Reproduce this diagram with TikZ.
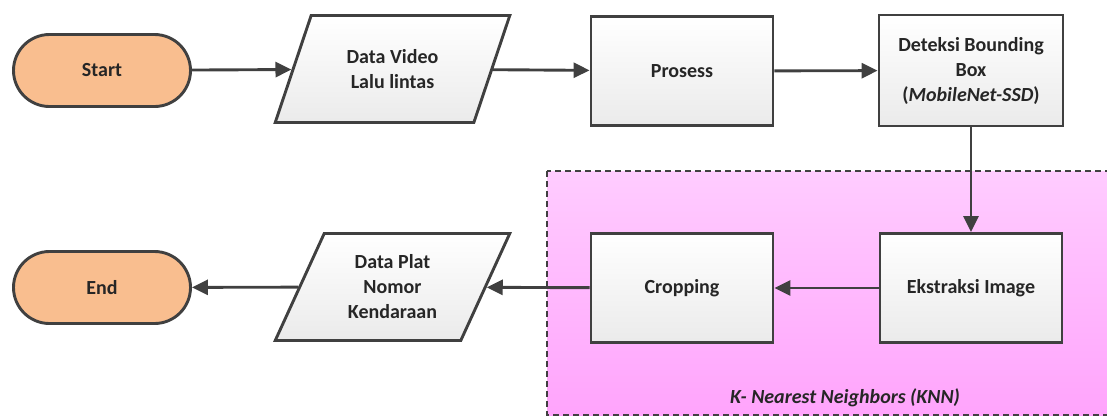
\documentclass[tikz,border=0pt]{standalone}
\usepackage{fontspec}
\setmainfont{Carlito}
\usetikzlibrary{shapes.geometric,shapes.misc,arrows.meta}
\definecolor{edge}{HTML}{404040}
\definecolor{peach}{HTML}{F9BE8F}
\definecolor{pinktop}{HTML}{FFCCFF}
\definecolor{pinkbot}{HTML}{FFA4FC}
\tikzset{
  x=1pt, y=-1pt,
  base/.style={draw=edge, line width=2.9pt, align=center, inner sep=2pt,
    font=\fontsize{20}{25}\selectfont\bfseries, text=black!85},
  terminal/.style={base, rounded rectangle, fill=peach, minimum width=181pt, minimum height=72pt},
  procbox/.style={base, rectangle, top color=white, bottom color=black!8, minimum width=182pt, minimum height=109pt},
  iobox/.style={base, trapezium, trapezium left angle=63.9, trapezium right angle=116.1,
    trapezium stretches=true, top color=white, bottom color=black!8, minimum width=235pt, minimum height=107pt},
  arrow/.style={draw=edge, line width=2.9pt, -{Triangle[length=16pt,width=15pt]}},
  region/.style={draw=edge, line width=2.2pt, dash pattern=on 6pt off 4pt, top color=pinktop, bottom color=pinkbot},
  regionlabel/.style={font=\fontsize{20}{25}\selectfont\bfseries\itshape, text=black!85}
}
\begin{document}
\begin{tikzpicture}
\useasboundingbox (0,0) rectangle (1107,416);
\path[region] (547,171) rectangle (1120,415);
\node[regionlabel] (knn) at (845,398) {K- Nearest Neighbors (KNN)};

\node[terminal] (start) at (102,70.5) {Start};
\node[iobox] (data1) at (392.5,69) {Data Video\\Lalu lintas};
\node[procbox] (prosess) at (682,71) {Prosess};
\node[procbox, minimum width=184pt, minimum height=111pt] (deteksi) at (971,70.5) {Deteksi Bounding\\Box\\(\textit{MobileNet-SSD})};
\node[procbox] (ekstraksi) at (971,288) {Ekstraksi Image};
\node[procbox] (cropping) at (682,288) {Cropping};
\node[iobox] (data2) at (392.5,287) {Data Plat\\Nomor\\Kendaraan};
\node[terminal] (end) at (102,287.5) {End};

\draw[arrow] (start) -- (data1);
\draw[arrow] (data1) -- (prosess);
\draw[arrow] (prosess) -- (deteksi);
\draw[arrow] (deteksi) -- (ekstraksi);
\draw[arrow] (ekstraksi) -- (cropping);
\draw[arrow] (cropping) -- (data2);
\draw[arrow] (data2) -- (end);
\end{tikzpicture}
\end{document}
